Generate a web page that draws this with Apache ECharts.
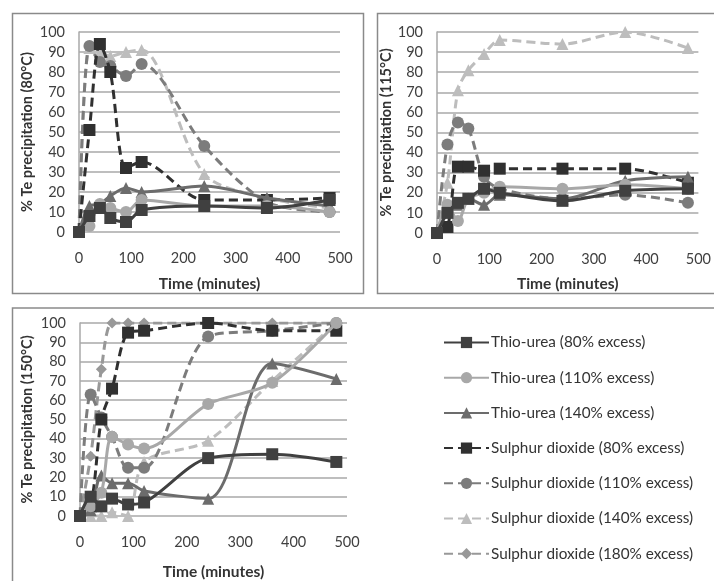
<!DOCTYPE html>
<html><head><meta charset="utf-8">
<script src="https://cdn.jsdelivr.net/npm/echarts@6/dist/echarts.min.js"></script>
<style>html,body{margin:0;padding:0;background:#fff}#c{width:714px;height:581px}</style>
</head><body><div id="c"></div>
<script>
// time points (minutes)
const times = [0, 20, 40, 60, 90, 120, 240, 360, 480];
const seriesNames = [
  'Thio-urea (80% excess)', 'Thio-urea (110% excess)', 'Thio-urea (140% excess)',
  'Sulphur dioxide (80% excess)', 'Sulphur dioxide (110% excess)',
  'Sulphur dioxide (140% excess)', 'Sulphur dioxide (180% excess)'
];
const panelTitles = ['% Te precipitation (80°C)', '% Te precipitation (115°C)', '% Te precipitation (150°C)'];
const xTicks = [0, 100, 200, 300, 400, 500];
const yTicks = [0, 10, 20, 30, 40, 50, 60, 70, 80, 90, 100];

// 80 °C
const thio80_at80 = [0, 8, 12, 7, 5, 11, 13, 12, 16];
const thio110_at80 = [0, 3, 14, 12, 10, 16, 13, 13, 10];
const thio140_at80 = [0, 13, 14, 18, 22, 20, 23, 17, 13];
const so2_80_at80 = [0, 51, 94, 80, 32, 35, 16, 16, 17];
const so2_110_at80 = [0, 93, 85, 83, 78, 84, 43, 15, 10];
const so2_140_at80 = [0, 92, 90, 88, 90, 91, 29, 17, 12];

// 115 °C
const thio80_at115 = [0, 10, 15, 17, 22, 20, 16, 21, 22];
const thio110_at115 = [0, 14, 6, 17, 20, 23, 22, 24, 22];
const thio140_at115 = [0, 12, 14, 17, 14, 19, 17, 26, 28];
const so2_80_at115 = [0, 3, 33, 33, 31, 32, 32, 32, 25];
const so2_110_at115 = [0, 44, 55, 52, 28, 22, 17, 19, 15];
const so2_140_at115 = [0, 25, 71, 81, 89, 96, 94, 100, 92];

// 150 °C
const thio80_at150 = [0, 10, 5, 9, 6, 7, 30, 32, 28];
const thio110_at150 = [0, 5, 12, 41, 37, 35, 58, 69, 100];
const thio140_at150 = [0, 3, 21, 17, 17, 13, 9, 79, 71];
const so2_80_at150 = [0, 5, 50, 66, 95, 96, 100, 96, 96];
const so2_110_at150 = [0, 63, 51, 41, 25, 25, 93, 96, 100];
const so2_140_at150 = [0, 0, 0, 2, 0, 28, 39, 70, 100];
const so2_180_at150 = [0, 31, 76, 100, 100, 100, 100, 100, 100];

const panels = [
  [thio80_at80, thio110_at80, thio140_at80, so2_80_at80, so2_110_at80, so2_140_at80, null],
  [thio80_at115, thio110_at115, thio140_at115, so2_80_at115, so2_110_at115, so2_140_at115, null],
  [thio80_at150, thio110_at150, thio140_at150, so2_80_at150, so2_110_at150, so2_140_at150, so2_180_at150]
];

const styles = [
  {color: '#404040', symbol: 'rect', size: 12, dash: 'solid'},
  {color: '#a8a8a8', symbol: 'circle', size: 12, dash: 'solid'},
  {color: '#6c6c6c', symbol: 'triangle', size: 12, dash: 'solid'},
  {color: '#303030', symbol: 'rect', size: 12, dash: [9, 5]},
  {color: '#7c7c7c', symbol: 'circle', size: 12, dash: [9, 5]},
  {color: '#bdbdbd', symbol: 'triangle', size: 12, dash: [9, 5]},
  {color: '#989898', symbol: 'diamond', size: 11, dash: [9, 5]}
];

const FONT = 'Lato';
const grids = [
  {left: 79, top: 32, width: 261, height: 200},
  {left: 437, top: 32, width: 266, height: 201},
  {left: 80, top: 323, width: 267, height: 205}
];
const yNameGaps = [44, 41, 45];
const xNameGaps = [44, 43, 48];

const xAxes = grids.map((g, i) => ({
  type: 'value', gridIndex: i, min: xTicks[0], max: xTicks[xTicks.length - 1], interval: 100,
  name: 'Time (minutes)', nameLocation: 'middle', nameGap: xNameGaps[i],
  nameTextStyle: {fontFamily: FONT, fontSize: 15.5, fontWeight: 'bold', color: '#333'},
  axisLine: {show: false}, axisTick: {show: false}, splitLine: {show: false},
  axisLabel: {fontFamily: FONT, fontSize: 14.5, color: '#404040', margin: 19}
}));
const yAxes = grids.map((g, i) => ({
  type: 'value', gridIndex: i, min: yTicks[0], max: yTicks[yTicks.length - 1], interval: 10,
  name: panelTitles[i], nameLocation: 'middle', nameGap: yNameGaps[i], nameRotate: 90,
  nameTextStyle: {fontFamily: FONT, fontSize: 14.5, fontWeight: 'bold', color: '#333'},
  axisLine: {show: true, lineStyle: {color: '#a8a8a8', width: 1.5}}, axisTick: {show: false},
  splitLine: {show: true, lineStyle: {color: '#a8a8a8', width: 1.5}},
  axisLabel: {fontFamily: FONT, fontSize: 14.5, color: '#404040', margin: 14}
}));

const series = [];
panels.forEach((vals, p) => {
  vals.forEach((arr, k) => {
    if (!arr) return;
    const s = styles[k];
    series.push({
      name: seriesNames[k], type: 'line', xAxisIndex: p, yAxisIndex: p,
      data: times.map((t, j) => [t, arr[j]]),
      smooth: 0.3, symbol: s.symbol, symbolSize: s.size, showAllSymbol: true,
      itemStyle: {color: s.color}, lineStyle: {color: s.color, width: 3, type: s.dash},
      emphasis: {disabled: true}, animation: false, z: 10 - k
    });
  });
});

const chart = echarts.init(document.getElementById('c'), null, {renderer: 'canvas'});
chart.setOption({
  backgroundColor: '#fff',
  animation: false,
  graphic: [
    {type: 'rect', shape: {x: 12.5, y: 13.5, width: 351, height: 280}, style: {fill: 'none', stroke: '#8a8a8a', lineWidth: 1.5}, silent: true},
    {type: 'rect', shape: {x: 377.5, y: 13.5, width: 345, height: 280}, style: {fill: 'none', stroke: '#8a8a8a', lineWidth: 1.5}, silent: true},
    {type: 'rect', shape: {x: 12.5, y: 308, width: 720, height: 300}, style: {fill: 'none', stroke: '#8a8a8a', lineWidth: 1.5}, silent: true}
  ],
  legend: {
    orient: 'vertical', left: 443, top: 335, padding: 0, itemWidth: 45, itemHeight: 14, itemGap: 20.2,
    data: seriesNames,
    textStyle: {fontFamily: FONT, fontSize: 15.3, color: '#333', padding: [0, 0, 0, -3]},
    selectedMode: false
  },
  grid: grids,
  xAxis: xAxes,
  yAxis: yAxes,
  series: series
});
</script>
</body></html>
